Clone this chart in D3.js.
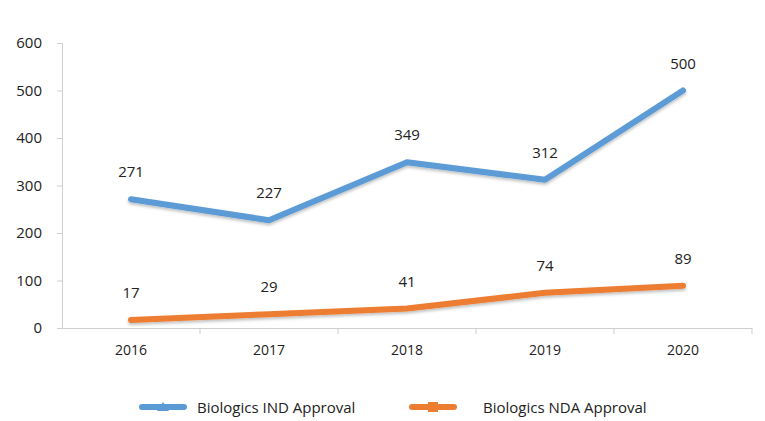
<!DOCTYPE html>
<html><head><meta charset="utf-8">
<script src="https://cdn.jsdelivr.net/npm/d3@7"></script>
<style>body{margin:0;background:#fff}svg{display:block}text{font-family:"Open Sans",sans-serif;fill:#222}</style>
</head><body><svg id="c" width="765" height="421"></svg>
<script>
const years = ["2016","2017","2018","2019","2020"];
const indValues = [271,227,349,312,500];
const ndaValues = [17,29,41,74,89];
const yTicks = [0,100,200,300,400,500,600];
const seriesNames = ["Biologics IND Approval","Biologics NDA Approval"];
const colors = ["#5b9bd5","#ed7d31"];

const svg = d3.select("#c");
const mLeft = 62, mRight = 752, mTop = 43, mBottom = 328;
const x = d3.scaleBand().domain(years).range([mLeft,mRight]);
const y = d3.scaleLinear().domain([0,600]).range([mBottom,mTop]);

const axisColor = "#cfcfcf";
// y axis
const ya = svg.append("g").attr("transform",`translate(${mLeft},0)`)
  .call(d3.axisLeft(y).tickValues(yTicks).tickSize(5).tickPadding(15));
ya.select(".domain").attr("stroke",axisColor);
ya.selectAll(".tick line").attr("stroke",axisColor);
ya.selectAll(".tick text").attr("font-size",15).attr("font-family","Open Sans").attr("fill","#222");

// x axis
const xa = svg.append("g").attr("transform",`translate(0,${mBottom})`)
  .call(d3.axisBottom(x).tickSize(0).tickPadding(17));
xa.select(".domain").attr("stroke",axisColor);
xa.selectAll(".tick text").attr("font-size",14).attr("font-family","Open Sans").attr("fill","#222");
const bounds = years.map(d=>x(d)).concat([mRight]);
svg.append("g").selectAll("line").data(bounds.slice(1)).join("line")
  .attr("x1",d=>d).attr("x2",d=>d).attr("y1",mBottom).attr("y2",mBottom+6).attr("stroke",axisColor);

const cx = d => x(d)+x.bandwidth()/2;
const line = d3.line().x(d=>cx(d[0])).y(d=>y(d[1]));
const defs = svg.append("defs");
defs.append("filter").attr("id","sh").attr("x","-10%").attr("y","-10%").attr("width","120%").attr("height","130%")
  .append("feDropShadow").attr("dx",0).attr("dy",2).attr("stdDeviation",1.5).attr("flood-color","#000").attr("flood-opacity",0.25);

[indValues, ndaValues].forEach((vals,i)=>{
  const pts = years.map((yr,j)=>[yr,vals[j]]);
  svg.append("path").attr("d",line(pts)).attr("fill","none").attr("stroke",colors[i])
    .attr("stroke-width",6).attr("stroke-linejoin","round").attr("stroke-linecap","round").attr("filter","url(#sh)");
  svg.append("g").selectAll("text").data(pts).join("text")
    .attr("x",d=>cx(d[0])).attr("y",d=>y(d[1])-22).attr("text-anchor","middle")
    .attr("font-size",15).text(d=>d[1]);
});

// legend
const lg = svg.append("g");
const lx = [142,412];
seriesNames.forEach((n,i)=>{
  const g = lg.append("g").attr("transform",`translate(${lx[i]},407)`);
  g.append("line").attr("x1",0).attr("x2",42).attr("y1",0).attr("y2",0).attr("stroke",colors[i])
    .attr("stroke-width",6).attr("stroke-linecap","round");
  if(i===0){
    g.append("path").attr("d","M21,-5 L27,4 L15,4 Z").attr("fill",colors[i]);
  } else {
    g.append("rect").attr("x",16).attr("y",-5).attr("width",10).attr("height",10).attr("fill",colors[i]);
  }
  g.append("text").attr("x",i===0?55:71).attr("y",5.5).attr("font-size",15).text(n);
});
</script></body></html>
